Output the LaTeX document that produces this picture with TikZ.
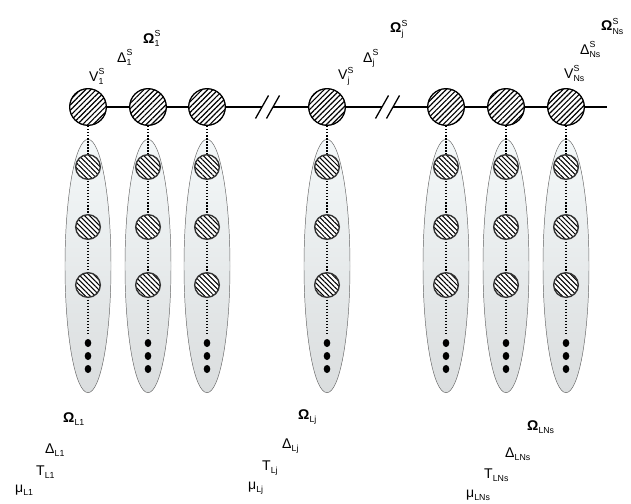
\documentclass[tikz,border=0pt]{standalone}
\usepackage{fontspec}
\setmainfont{Liberation Sans}
\usetikzlibrary{patterns.meta}
\usetikzlibrary{shapes.geometric}
\definecolor{grouptop}{HTML}{F4F8F9}
\definecolor{groupbot}{HTML}{DADDDE}
\tikzset{bus node/.style={circle,draw,line width=1.1pt,minimum size=1.1cm,inner sep=0pt,
    preaction={fill=white},pattern={Lines[angle=45,distance=3.2pt,line width=1pt]}}}
\tikzset{sub node/.style={circle,draw=black!80,line width=1.2pt,minimum size=.74cm,inner sep=0pt,
    preaction={fill=white},pattern={Lines[angle=-45,distance=3pt,line width=.9pt]}}}
\tikzset{tail dot/.style={ellipse,fill=black,minimum width=.2cm,minimum height=.24cm,inner sep=0pt}}
\tikzset{group box/.style={ellipse,draw=black!60,line width=.4pt,
    top color=grouptop,bottom color=groupbot,minimum width=1.38cm,minimum height=7.6cm,inner sep=0pt}}
\tikzset{bus line/.style={line width=1.1pt}}
\tikzset{link line/.style={line width=1.2pt,dash pattern=on 1.2pt off 1.4pt}}
\tikzset{var label/.style={font=\fontsize{12}{14}\selectfont,anchor=base west,inner sep=0pt}}
\newcommand{\idx}{\fontsize{7.5}{8}\selectfont}
\newcommand{\bussym}[3]{#1\rlap{\raisebox{5.6pt}{\idx #2}}\raisebox{-3.3pt}{\idx #3}}
\newcommand{\loadsym}[2]{#1\raisebox{-3.3pt}{\idx #2}}

\begin{document}
\begin{tikzpicture}[x=.03cm,y=-.03cm]
  \useasboundingbox (0,0) rectangle (631,504);
  % one column per bus node, group drawn first
  \foreach \i/\x in {1/88,2/148,3/207,4/327,5/446,6/506,7/566} {
    \node[group box] (g\i) at (\x,266) {};
    \node[bus node] (s\i) at (\x,107) {};
    \coordinate (e\i) at (\x,334);
    \draw[link line] (s\i) -- (e\i);
    \foreach \k/\y in {1/167,2/227,3/285}
      \node[sub node] (c\i-\k) at (\x,\y) {};
    \foreach \k/\y in {1/343,2/356,3/369}
      \node[tail dot] (d\i-\k) at (\x,\y) {};
  }
  % bus with two breaks
  \coordinate (b1a) at (262,107);
  \coordinate (b1b) at (273,107);
  \coordinate (b2a) at (382,107);
  \coordinate (b2b) at (393,107);
  \coordinate (bend) at (607,107);
  \draw[bus line] (s1) -- (s2) (s2) -- (s3) (s3) -- (b1a) (b1b) -- (s4)
    (s4) -- (b2a) (b2b) -- (s5) (s5) -- (s6) (s6) -- (s7) (s7) -- (bend);
  \draw[bus line] (b1a) ++(-6.5,11.5) -- ++(13,-23) (b1b) ++(-6.5,11.5) -- ++(13,-23);
  \draw[bus line] (b2a) ++(-6.5,11.5) -- ++(13,-23) (b2b) ++(-6.5,11.5) -- ++(13,-23);
  % bus labels, stepped up to the right
  \node[var label] (v1-a) at (89,81) {\bussym{V}{S}{1}};
  \node[var label] (v1-b) at (117,62) {\bussym{Δ}{S}{1}};
  \node[var label] (v1-c) at (143,43) {\bussym{\textbf{Ω}}{S}{1}};
  \node[var label] (vj-a) at (338,80) {\bussym{V}{S}{j}};
  \node[var label] (vj-b) at (363,62) {\bussym{Δ}{S}{j}};
  \node[var label] (vj-c) at (390,33) {\bussym{\textbf{Ω}}{S}{j}};
  \node[var label] (vn-a) at (564,78) {\bussym{V}{S}{Ns}};
  \node[var label] (vn-b) at (580,54) {\bussym{Δ}{S}{Ns}};
  \node[var label] (vn-c) at (601,31) {\bussym{\textbf{Ω}}{S}{Ns}};
  % load labels
  \node[var label] (m1-a) at (15,492) {\loadsym{μ}{L1}};
  \node[var label] (m1-b) at (36,475) {\loadsym{T}{L1}};
  \node[var label] (m1-c) at (45,453) {\loadsym{Δ}{L1}};
  \node[var label] (m1-d) at (63,422) {\loadsym{\textbf{Ω}}{L1}};
  \node[var label] (mj-a) at (248,489) {\loadsym{μ}{Lj}};
  \node[var label] (mj-b) at (262,470) {\loadsym{T}{Lj}};
  \node[var label] (mj-c) at (282,448) {\loadsym{Δ}{Lj}};
  \node[var label] (mj-d) at (298,419) {\loadsym{\textbf{Ω}}{Lj}};
  \node[var label] (mn-a) at (466,497) {\loadsym{μ}{LNs}};
  \node[var label] (mn-b) at (484,478) {\loadsym{T}{LNs}};
  \node[var label] (mn-c) at (505,457) {\loadsym{Δ}{LNs}};
  \node[var label] (mn-d) at (527,430) {\loadsym{\textbf{Ω}}{LNs}};
\end{tikzpicture}
\end{document}
